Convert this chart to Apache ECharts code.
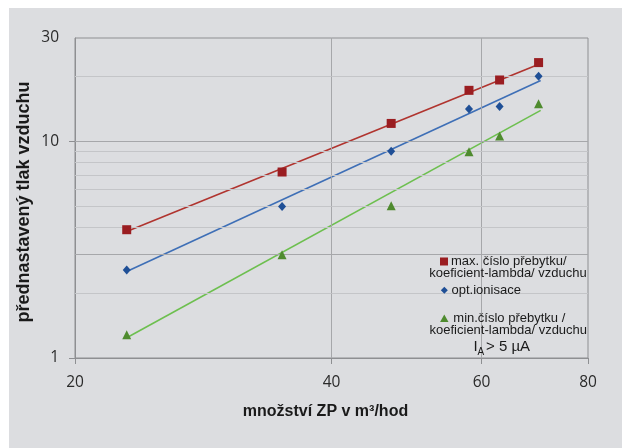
<!DOCTYPE html>
<html>
<head>
<meta charset="utf-8">
<script src="https://cdn.jsdelivr.net/npm/echarts@6/dist/echarts.min.js"></script>
<style>
html,body{margin:0;padding:0;background:#fff;}
#chart{width:622px;height:448px;}
</style>
</head>
<body>
<div id="chart"></div>
<script>
// ---- data ----
const flowRate = [23, 35, 47, 58, 63, 70];               // množství ZP v m3/hod
const maxLambda = [3.91, 7.22, 12.1, 17.2, 19.2, 23.1];  // max. číslo přebytku
const optIonisation = [2.55, 5.0, 9.0, 14.1, 14.5, 20.0]; // opt.ionisace
const minLambda = [1.28, 3.0, 5.05, 8.95, 10.6, 14.9];   // min. číslo přebytku
// trend (power fit) line end points
const trendFlow = [23, 70.4];
const maxTrend = [3.84, 22.9];
const optTrend = [2.51, 19.1];
const minTrend = [1.24, 13.9];
// axes
const xTicks = [20, 40, 60, 80];
const yLabels = [1, 10, 30];
const yTicks = [1, 10];
const xGridValues = [40, 60];
const yMajorGrid = [3, 10];
const yMinorGrid = [2, 4, 5, 6, 7, 8, 9, 20];

const seriesNames = ['max. číslo přebytku/ koeficient-lambda/ vzduchu', 'opt.ionisace', 'min.číslo přebytku / koeficient-lambda/ vzduchu'];

const C = {
  bg: '#dcdde0',
  red: '#9a1d21', redLine: '#b0342f',
  blue: '#1f4f96', blueLine: '#3e6fb6',
  green: '#4f8b2f', greenLine: '#6dbf4f',
  minor: '#c4c5c8', major: '#a6a7aa', axis: '#8e8f92', text: '#1a1a1a'
};

function pairs(xs, ys) { return xs.map((x, i) => [x, ys[i]]); }

const chart = echarts.init(document.getElementById('chart'), null, {renderer: 'canvas'});

const gridLines = [];
xGridValues.forEach(v => gridLines.push({xAxis: v, lineStyle: {color: C.major}}));
yMajorGrid.forEach(v => gridLines.push({yAxis: v, lineStyle: {color: C.major}}));
yMinorGrid.forEach(v => gridLines.push({yAxis: v, lineStyle: {color: C.minor}}));

const option = {
  animation: false,
  backgroundColor: C.bg,
  grid: {
    left: 75, top: 38, right: 34, bottom: 90,
    show: true, backgroundColor: C.bg, borderColor: C.axis, borderWidth: 1,
    outerBoundsMode: 'none', containLabel: false
  },
  xAxis: {
    type: 'log', logBase: 10, min: 20, max: 80,
    name: 'množství ZP v m³/hod', nameLocation: 'middle', nameGap: 46, nameMoveOverlap: false,
    nameTextStyle: {fontFamily: 'Liberation Sans, Arial', fontWeight: 'bold', fontSize: 16, color: C.text, padding: [0, 12, 0, 0]},
    axisLine: {lineStyle: {color: C.axis}},
    axisTick: {show: true, length: 6, customValues: xTicks, lineStyle: {color: C.axis}},
    axisLabel: {customValues: xTicks, margin: 17, fontFamily: 'Open Sans', fontSize: 15.5, color: '#2a2a2a'},
    splitLine: {show: false}, minorSplitLine: {show: false}
  },
  yAxis: {
    type: 'log', logBase: 10, min: 1, max: 30,
    name: 'přednastavený tlak vzduchu', nameLocation: 'middle', nameGap: 42, nameRotate: 90, nameMoveOverlap: false,
    nameTextStyle: {fontFamily: 'Liberation Sans, Arial', fontWeight: 'bold', fontSize: 18, color: C.text, padding: [0, 8, 0, 0]},
    axisLine: {show: true, lineStyle: {color: C.axis}},
    axisTick: {show: true, length: 6, customValues: yTicks, lineStyle: {color: C.axis}},
    axisLabel: {customValues: yLabels, margin: 16, fontFamily: 'Open Sans', fontSize: 15.5, color: '#2a2a2a'},
    splitLine: {show: false}, minorSplitLine: {show: false}
  },
  series: [
    {
      type: 'line', name: 'grid', data: [], z: 1, silent: true,
      markLine: {silent: true, symbol: 'none', label: {show: false}, animation: false,
        lineStyle: {type: 'solid', width: 1}, data: gridLines}
    },
    {type: 'line', name: 'maxTrend', data: pairs(trendFlow, maxTrend), showSymbol: false, symbol: 'none',
      lineStyle: {color: C.redLine, width: 1.6}, z: 3, silent: true},
    {type: 'line', name: 'optTrend', data: pairs(trendFlow, optTrend), showSymbol: false, symbol: 'none',
      lineStyle: {color: C.blueLine, width: 1.6}, z: 3, silent: true},
    {type: 'line', name: 'minTrend', data: pairs(trendFlow, minTrend), showSymbol: false, symbol: 'none',
      lineStyle: {color: C.greenLine, width: 1.6}, z: 3, silent: true},
    {type: 'scatter', name: seriesNames[0], data: pairs(flowRate, maxLambda), symbol: 'rect', symbolSize: 9,
      itemStyle: {color: C.red, opacity: 1}, z: 10},
    {type: 'scatter', name: seriesNames[1], data: pairs(flowRate, optIonisation), symbol: 'diamond', symbolSize: [8, 9],
      itemStyle: {color: C.blue, opacity: 1}, z: 10},
    {type: 'scatter', name: seriesNames[2], data: pairs(flowRate, minLambda), symbol: 'triangle', symbolSize: [9, 9],
      itemStyle: {color: C.green, opacity: 1}, z: 10}
  ],
  graphic: [
    {type: 'rect', z: 100, shape: {x: 0, y: 0, width: 622, height: 8}, style: {fill: '#fff'}},
    {type: 'rect', z: 100, shape: {x: 0, y: 0, width: 9, height: 448}, style: {fill: '#fff'}},
    {type: 'rect', z: 5, shape: {x: 428, y: 258, width: 139, height: 99}, style: {fill: C.bg}},
    {type: 'rect', z: 6, shape: {x: 440, y: 257.5, width: 8, height: 8}, style: {fill: C.red}},
    {type: 'text', z: 6, style: {x: 508.7, y: 261.7, text: 'max. číslo přebytku/', fill: C.text, font: '13px "Liberation Sans", Arial', textAlign: 'center', textVerticalAlign: 'middle'}},
    {type: 'text', z: 6, style: {x: 508, y: 273, text: 'koeficient-lambda/ vzduchu', fill: C.text, font: '13px "Liberation Sans", Arial', textAlign: 'center', textVerticalAlign: 'middle'}},
    {type: 'polygon', z: 6, shape: {points: [[444.3, 286.8], [447.8, 290.3], [444.3, 293.8], [440.8, 290.3]]}, style: {fill: C.blue}},
    {type: 'text', z: 6, style: {x: 451.5, y: 290.5, text: 'opt.ionisace', fill: C.text, font: '13px "Liberation Sans", Arial', textAlign: 'left', textVerticalAlign: 'middle'}},
    {type: 'polygon', z: 6, shape: {points: [[444.3, 314.5], [448.5, 322], [440.1, 322]]}, style: {fill: C.green}},
    {type: 'text', z: 6, style: {x: 509.3, y: 318.5, text: 'min.číslo přebytku /', fill: C.text, font: '13px "Liberation Sans", Arial', textAlign: 'center', textVerticalAlign: 'middle'}},
    {type: 'text', z: 6, style: {x: 508.3, y: 330.3, text: 'koeficient-lambda/ vzduchu', fill: C.text, font: '13px "Liberation Sans", Arial', textAlign: 'center', textVerticalAlign: 'middle'}},
    {type: 'text', z: 6, style: {x: 473.5, y: 346.5, text: 'I', fill: C.text, font: '15px "Liberation Sans", Arial', textAlign: 'left', textVerticalAlign: 'middle'}},
    {type: 'text', z: 6, style: {x: 477.5, y: 352, text: 'A', fill: C.text, font: '10px "Liberation Sans", Arial', textAlign: 'left', textVerticalAlign: 'middle'}},
    {type: 'text', z: 6, style: {x: 486, y: 346.5, text: '> 5 µA', fill: C.text, font: '15px "Liberation Sans", Arial', textAlign: 'left', textVerticalAlign: 'middle'}}
  ]
};
chart.setOption(option);
</script>
</body>
</html>
